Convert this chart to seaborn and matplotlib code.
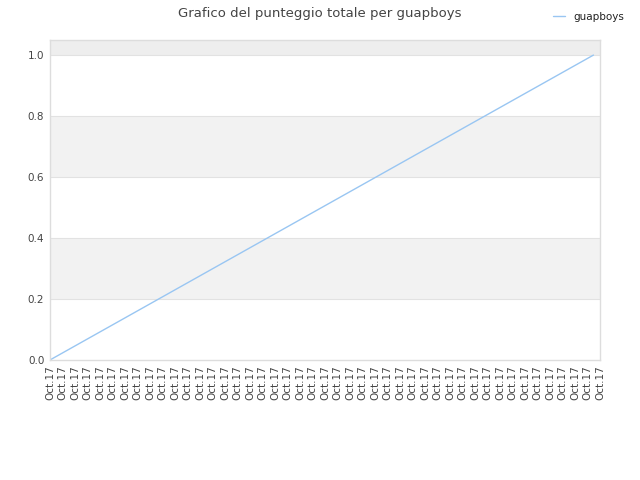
import numpy as np
import pandas as pd
import seaborn as sns
import matplotlib.pyplot as plt

sns.set_theme(style="white")
plt.rcParams['font.family'] = ['DejaVu Sans']

# tick labels along the x axis (all the same day)
tick_labels = ["Oct.17"] * 45
tick_pos = list(range(45))

# series: total score for guapboys
score_x = [0.0, 43.45]
score_y = [0.0, 1.0]

df = pd.DataFrame({"x": score_x, "score": score_y})

fig = plt.figure(figsize=(6.4, 4.8), dpi=100)
ax = fig.add_axes([0.078, 0.25, 0.86, 0.667])

# alternating bands
ax.axhspan(0.2, 0.4, color="#f2f2f2", zorder=0, lw=0)
ax.axhspan(0.6, 0.8, color="#f2f2f2", zorder=0, lw=0)
ax.axhspan(1.0, 1.05, color="#eeeeee", zorder=0, lw=0)
for yv in [0.2, 0.4, 0.6, 0.8, 1.0]:
    ax.axhline(yv, color="#e2e2e2", lw=0.8, zorder=0.5)

sns.lineplot(data=df, x="x", y="score", ax=ax, color="#99c6f2", lw=1,
             label="guapboys", legend=False)

ax.set_xlim(0, 44)
ax.set_ylim(0, 1.05)
ax.set_xticks(tick_pos)
ax.set_xticklabels(tick_labels, rotation=90, fontsize=7.5, color="#444444")
ax.set_yticks([0.0, 0.2, 0.4, 0.6, 0.8, 1.0])
ax.set_yticklabels(["0.0", "0.2", "0.4", "0.6", "0.8", "1.0"], fontsize=7.5, color="#444444")
ax.tick_params(axis="both", length=0, pad=4)
ax.set_xlabel("")
ax.set_ylabel("")
for s in ax.spines.values():
    s.set_color("#dddddd")
    s.set_linewidth(1)

fig.suptitle("Grafico del punteggio totale per guapboys", fontsize=9.5,
             color="#444444", y=0.985)
handles, labels = ax.get_legend_handles_labels()
fig.legend(handles, labels, loc="upper right", bbox_to_anchor=(0.99, 0.995),
           frameon=False, fontsize=7.5, handlelength=1.2, labelcolor="#222222")

fig.savefig("out.png", dpi=100)
